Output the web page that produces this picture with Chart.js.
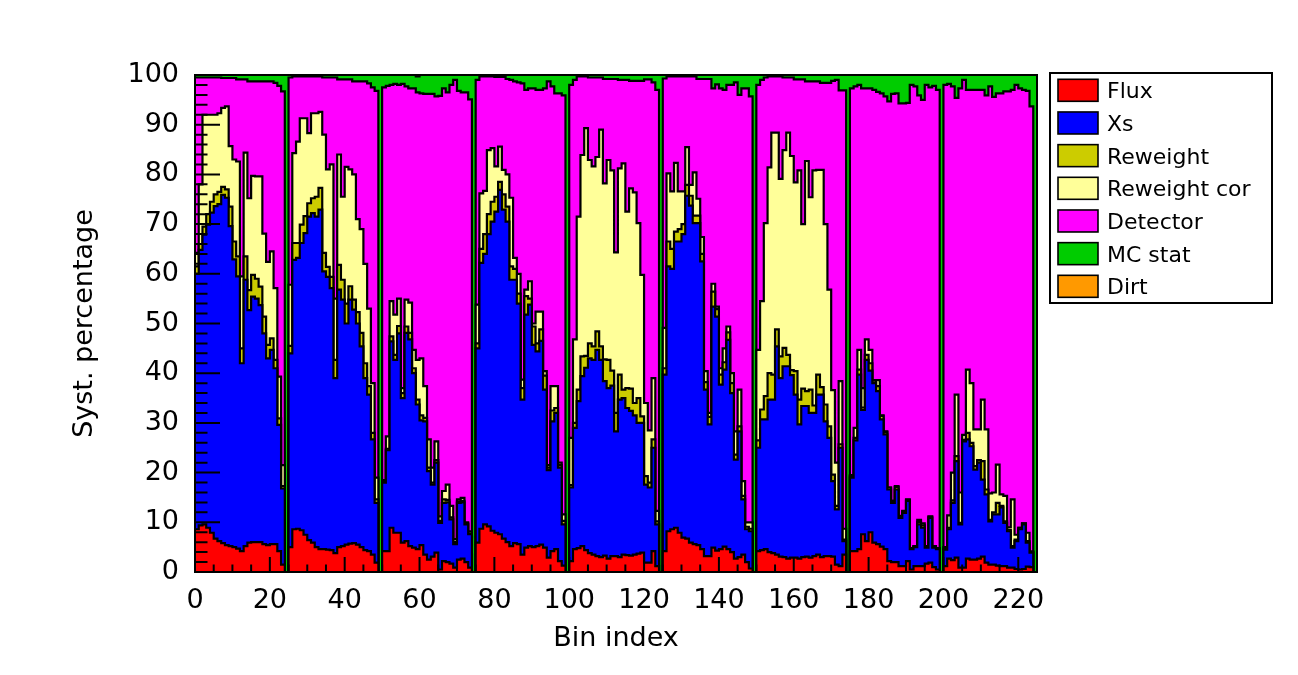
<!DOCTYPE html>
<html>
<head>
<meta charset="utf-8">
<script src="https://cdn.jsdelivr.net/npm/chart.js@4.4.1/dist/chart.umd.min.js"></script>
<style>
  html, body { margin: 0; padding: 0; background: #fff; }
  #wrap { width: 1298px; height: 675px; }
</style>
</head>
<body>
<div id="wrap"><canvas id="systChart"></canvas></div>
<script>
// systematic breakdown per bin (percent), 225 bins = 9 blocks of 25
const flux = [
  8.6,9.4,9.6,8.9,7.9,6.7,6.2,5.8,5.4,5.2,5.0,4.7,4.2,5.2,5.9,6.0,6.0,6.0,5.6,5.4,5.6,5.6,4.2,1.5,0,
  5,8.6,8.7,8.4,7.5,6.4,5.9,5,4.6,4.6,4.5,4.4,3.8,5,5.2,5.5,5.7,5.8,5.5,5,4.4,4.2,3.5,1.9,0,
  4.2,4.2,8.9,7.9,7.9,5.9,6.2,5.2,4.9,4.6,5.4,3.5,2.5,3.1,3.9,0.5,2.2,2,1.7,0.9,2.5,2.7,2,0.9,0,
  5.9,8.7,9.6,9.2,8.3,7.9,7.6,6.7,6,5.2,5.8,5.6,3.5,4.9,5.2,5,5.2,5.5,4.9,2.9,4.2,4.6,2.2,1.3,0,
  2.2,4.6,4.8,5.2,4.4,3.8,3.5,3.2,3,3.3,2.7,3.2,3.2,3,3.5,3.4,3.3,3.5,3.7,3.9,1.9,1.9,4.2,1.2,0,
  4.2,8.2,8.6,8.9,7.9,6.9,6.7,5.9,5.6,5.4,4.6,3.2,3.2,4.9,4.3,4.6,5.1,4.6,4,2.7,3,3.5,2,0.7,0,
  4.2,4.4,4.6,4,3.8,3.5,3.1,3,2.7,2.9,2.9,2.7,3,3.1,2.9,3.2,3.5,3,3.2,3.2,3.1,1.5,1.2,3.5,0,
  4.2,4.2,4.6,7.6,6.2,8,5.9,5.6,5.1,4.6,2.2,2,2,1.2,1.2,2.2,0.5,1.2,1.2,1.2,1.7,1.9,1,0.5,0,
  1.2,2.7,2.4,2.9,0.9,0.9,2.7,2.5,2.5,2.7,3.1,1.9,1.5,1.5,1.3,1.2,1.2,0.9,0.9,0.6,0.5,0.6,1.1,1,0
];
const xs = [
  51.4,55.4,58.3,61,64.4,66.9,67.8,70.1,69.9,64.4,57.9,54.8,37.8,53.6,46.8,49.4,49,47.7,42.4,37.6,39.1,35.4,25.4,15.3,0,
  39,54.2,54.5,57.8,60.7,65.1,66.3,66.5,68.3,55.9,54.9,52.7,35.2,51.8,49.6,44.5,49.1,47,44.5,40.4,34.6,31.5,23.2,12,0,
  13.8,20.3,37.5,34.8,40.1,29.1,41.9,41.6,35.1,29.1,25.1,26.8,17.8,14.5,18.1,9.4,11.7,12,8.9,4.7,11.4,11.3,7.6,6.7,0,
  39.1,53.5,54.4,58.8,62.2,64.6,69.3,66.2,64.5,53.6,53,48.4,31.2,46.9,48.6,40.7,39.2,41,31.8,17.6,26.1,27.4,18.8,8.3,0,
  14.8,24.4,29.6,34.2,36.7,39.2,39.2,41.5,39.7,35.1,34.3,34.3,25.1,31.7,31.5,29.6,29.1,28,26.3,26.1,15.7,15.1,20.8,8.4,0,
  35.5,53.3,52.4,57.6,58.6,61.1,69,67.8,64.6,64.8,57.9,33.5,26.5,48.5,47.1,33.1,35.6,42.1,32,19.9,25.3,11.1,6.6,7.5,0,
  20.8,26.3,26.1,30.7,30.9,41.9,35.9,38.4,38.7,36.7,32.8,27,30.4,30.3,29.1,28.8,32.2,32.7,27.1,23.8,15.2,11.1,23.8,2.7,0,
  14.8,22.3,35.1,25,36.5,32.5,32.1,30.8,25.6,23.1,14.4,11.9,14.6,9.7,10.7,12.1,4.1,3.8,8.4,7.7,3.2,9,3.9,4.1,0,
  3.3,5.9,11.5,19.4,8.7,25.4,24,22.8,18.1,19.3,15.5,13.7,8.7,10.1,10.3,11.8,8.7,7.3,4,5.6,8.1,9,4.8,2.9,0
];
const reweight = [
  1.5,1.2,1.6,2.1,2.2,2.4,2.5,1.6,1.7,3.9,3.6,4,3,4.7,4,4.4,4,3.7,3.4,2.7,2.3,1.7,1.3,0.5,0,
  1.5,3.4,3,3.7,3.4,2.7,3,4,4.4,3.7,2,2.3,3.7,5,4,4,2.7,2,2.3,2.7,3,1.7,1.3,0.7,0,
  0.3,0.3,1,1,1.5,1,1.3,1.3,1,1,1,0.7,0.7,0.4,0.5,0.4,0.7,0.5,0.4,0.4,0.3,0.3,0.2,0.2,0,
  1,2.8,4,4,4,3,1.6,3.1,3,2.7,2.2,2,2.3,3.7,1.2,3.7,1.6,2.3,2.8,0.5,2.2,1,0.5,0.7,0,
  0.5,1,2.3,4,2.4,3,2.7,3.7,2.7,4.4,5.7,3,3.7,5,1.7,4,4.5,2.5,5,1.3,1.7,1,1.7,0.6,0,
  1.3,5,4,2,2.5,2,2.2,2,1.5,1.5,1.5,1.5,1.5,3,1.5,2,1.5,1.5,2,1,1,0.7,0.5,0.5,0,
  1.5,2,4.7,5.3,5,3.4,4.4,3.7,2.3,1,4.7,5,3.5,3,4.7,1.5,4,1.5,3.4,2.3,1.3,0.7,0.7,0.3,0,
  0.3,0.5,1,0.5,1,1.5,0.5,1,0.7,0.5,0.4,0.4,0.5,0.3,0.3,0.2,0.2,0.2,0.5,0.5,0.3,0.2,0.2,0.2,0,
  0.2,0.3,0.5,1,0.3,0.3,1.3,0.7,0.7,0.5,3.7,1,0.3,0.4,2.3,0.3,0.3,0.3,0.3,0.3,0.3,0.2,0.3,0.2,0
];
const reweightCor = [
  2.7,12,22.5,20,17.5,16,15.8,15.9,16.7,12.2,16.5,19.1,14.5,20.9,18.5,19.9,20.6,22.2,16.7,16.7,17.5,14.4,8.4,4.2,0,
  12.3,18.1,20.4,21.4,19.7,14.1,17.1,16.8,15.3,23.8,19.6,22.6,12.3,22.2,16.7,27.5,23.5,25.2,18.7,20.9,20,15.6,10,4.4,0,
  0.2,2.5,7.1,8.1,5.5,1,5.4,6.1,3.7,8,11.5,6.4,5.7,3,3.8,0.9,1.7,3.1,2.3,0.6,0.4,0.6,0.2,0.4,0,
  7.8,11.2,8.7,12.9,10.8,6.1,7.1,4.9,6.5,13.8,2.2,4,1.7,1.3,3.5,0.6,6.4,3.6,0.9,0.5,4.9,4.4,0.5,1.3,0,
  9.5,16.8,34.8,40.5,45.8,36.9,36.2,35.1,43.6,35.4,40.2,40.3,32.3,41.5,45.5,35.5,40.3,42.4,35.2,28.5,14.7,10.5,12.3,2.1,0,
  8.1,13.7,11.6,13.8,7.6,6.6,7.6,2.2,8.7,3.4,3.4,2.2,0.8,1.6,0.5,1.3,2.8,1.2,2,4.7,7.4,3,0.9,1.3,0,
  18.2,21.8,34.8,41.4,48.7,39.6,35.7,39.8,44.7,43.1,38,46.1,33.1,46.3,38.7,47.3,41.2,43.7,36.3,27.5,17,8.7,12.7,2.2,0,
  0.2,2,4,3.9,3.1,2.7,0.1,1.2,0.1,0.1,0,0,0.2,0.1,0.1,0.1,0,0,0.4,0.4,0,0.1,0.1,0,0,
  0.3,2.5,5.6,12.4,6.1,1,12.7,12,7.4,6.2,12.4,12.1,5.3,4,7.7,2.3,5.1,0.5,9.4,1,0,0,1.7,0,0
];
const detector = [
  35.3,21.5,7.5,7.5,7.5,7.5,7.2,6,5.7,13.7,16.4,16.5,39.6,14.7,23.5,19,19.1,19.1,30.6,36.3,34.2,41.3,58.5,75.2,0,
  41.7,15.4,13.1,8.4,8.4,11.4,7.4,7.4,7.1,11.5,18.5,17.5,44.5,15.1,23.6,17.6,18.1,18.7,27.7,29.7,36.7,45.3,59.5,77.8,0,
  79,70.5,43.5,46.4,43,61.2,42.9,43.1,52.6,53.8,53.3,58.8,69.5,75.2,69.4,84.6,81,78.9,84.7,92.4,82.2,81.6,86.5,86.9,0,
  45.2,23.5,23,14.8,14.4,18,14,18.7,19.2,23.7,35.5,38.5,59.6,40.2,38.8,47.3,44.6,44.6,56.9,77.2,60.3,58.9,74.3,84.3,0,
  71,52.2,28.2,15.8,10.4,16.6,17.9,16,10.5,21,16.3,18.4,34.9,17.8,16.8,26.5,21.6,22.4,28.6,39,65.1,70.6,59.5,84.7,0,
  50.2,19.5,23.1,17.4,23.1,23.1,14.2,21.8,19.3,24.1,31.8,58.8,67.2,39.3,44.7,56.3,52,48.6,58,70.2,59.3,79,87.3,85.7,0,
  53.3,44.5,29.3,18.3,11.3,11.3,20.6,14.6,11.1,15.8,20.7,18.3,29.1,16,23.3,17.9,17.8,17.5,28.4,41.6,62.2,77,58.5,88.2,0,
  77.8,68.7,53.3,60.3,50.5,52.6,58.4,58,64.8,67.4,77.7,81.9,79,83,82,79.8,93.2,92.5,85.4,85.2,92.8,86.3,92.6,92.2,0,
  93,86.8,77.7,59.7,81.3,71.4,56.3,59,68.3,68.3,62.3,67.2,81.9,79.6,74.7,80.7,81.4,87.7,82.4,90.5,88.4,87.2,88.9,89.6,0
];
const mcStat = [
  0.5,0.5,0.5,0.5,0.5,0.5,0.5,0.6,0.6,0.6,0.6,0.9,0.9,0.9,1.3,1.3,1.3,1.3,1.3,1.3,1.3,1.6,2.2,3.3,100,
  0.5,0.3,0.3,0.3,0.3,0.3,0.3,0.3,0.3,0.5,0.5,0.5,0.5,0.9,0.9,0.9,0.9,1.3,1.3,1.3,1.3,1.7,2.5,3.2,100,
  2.5,2.5,2,1.8,2,1.8,2.3,2.7,2.7,3.2,3.7,3.8,3.8,3.8,4.3,4.2,2.7,3.5,2,1,3.2,3.5,3.5,4.9,100,
  1,0.3,0.3,0.3,0.3,0.4,0.4,0.4,0.8,1,1.3,1.5,1.7,3,2.7,2.7,3,3,2.7,1.3,2.3,3.7,3.7,4.1,100,
  2,1,0.3,0.3,0.3,0.5,0.5,0.5,0.5,0.8,0.8,0.8,0.8,1,1,1,1.2,1.2,1.2,1.2,0.9,0.9,1.5,3,100,
  0.7,0.3,0.3,0.3,0.3,0.3,0.3,0.3,0.3,0.8,0.8,0.8,0.8,2.7,1.9,2.7,3,2,2,1.5,4,2.7,2.7,4.3,100,
  2,1,0.5,0.3,0.3,0.3,0.3,0.5,0.5,0.5,0.9,0.9,0.9,1.3,1.3,1.3,1.3,1.6,1.6,1.6,1.2,1,3.1,3.1,100,
  2.7,2.3,2,2.7,2.7,2.7,3,3.4,3.7,4.3,5.3,3.8,3.7,5.7,5.7,5.6,2,2.3,4.1,5,2,2.5,2.2,3,100,
  2,1.8,2.3,4.6,2.7,1,3,3,3,3,3,4.1,2.3,4.4,3.7,3.7,3.3,3.3,3,2,2.7,3,3.2,6.3,100
];
const dirt = [
  0,0,0,0,0,0,0,0,0,0,0,0,0,0,0,0,0,0,0,0,0,0,0,0,0,
  0,0,0,0,0,0,0,0,0,0,0,0,0,0,0,0,0,0,0,0,0,0,0,0,0,
  0,0,0,0,0,0,0,0,0,0,0,0,0,0,0,0,0,0,0,0,0,0,0,0,0,
  0,0,0,0,0,0,0,0,0,0,0,0,0,0,0,0,0,0,0,0,0,0,0,0,0,
  0,0,0,0,0,0,0,0,0,0,0,0,0,0,0,0,0,0,0,0,0,0,0,0,0,
  0,0,0,0,0,0,0,0,0,0,0,0,0,0,0,0,0,0,0,0,0,0,0,0,0,
  0,0,0,0,0,0,0,0,0,0,0,0,0,0,0,0,0,0,0,0,0,0,0,0,0,
  0,0,0,0,0,0,0,0,0,0,0,0,0,0,0,0,0,0,0,0,0,0,0,0,0,
  0,0,0,0,0,0,0,0,0,0,0,0,0,0,0,0,0,0,0,0,0,0,0,0,0
];

const seriesNames = ["Flux", "Xs", "Reweight", "Reweight cor", "Detector", "MC stat", "Dirt"];
const seriesColors = ["#ff0000", "#0000ff", "#cccc00", "#ffff99", "#ff00ff", "#00cc00", "#ff9900"];
const seriesValues = [flux, xs, reweight, reweightCor, detector, mcStat, dirt];

const FONT = '"DejaVu Sans", "Liberation Sans", sans-serif';

// histogram steps: point i holds bin i, one extra point closes the last bin
function toSteps(vals) {
  const pts = vals.map((v, i) => ({ x: i, y: v }));
  pts.push({ x: vals.length, y: vals[vals.length - 1] });
  return pts;
}

const datasets = seriesValues.map((vals, k) => ({
  label: seriesNames[k],
  data: toSteps(vals),
  stepped: true,
  fill: k === 0 ? 'origin' : '-1',
  backgroundColor: seriesColors[k],
  borderColor: '#000',
  borderWidth: 2.2,
  pointRadius: 0,
  pointHitRadius: 0
}));

// ROOT style frame + inward tick marks
const frameTicks = {
  id: 'frameTicks',
  afterDatasetsDraw(chart) {
    const { ctx, chartArea: a, scales: { x, y } } = chart;
    ctx.save();
    ctx.strokeStyle = '#000';
    ctx.lineWidth = 2;
    ctx.beginPath();
    for (let v = 0; v <= 100; v += 2) {
      const py = y.getPixelForValue(v);
      const len = v % 10 === 0 ? 25 : 12.5;
      ctx.moveTo(a.left, py);
      ctx.lineTo(a.left + len, py);
    }
    for (let b = 0; b <= 225; b += 5) {
      const px = x.getPixelForValue(b);
      const len = b % 20 === 0 ? 15 : 7.5;
      ctx.moveTo(px, a.bottom);
      ctx.lineTo(px, a.bottom - len);
    }
    ctx.stroke();
    ctx.strokeRect(a.left, a.top, a.right - a.left, a.bottom - a.top);
    ctx.restore();
  }
};

// boxed legend at the right of the frame
const boxLegend = {
  id: 'boxLegend',
  afterDraw(chart) {
    const ctx = chart.ctx;
    const left = chart.chartArea.right + 13;
    const top = 73;
    ctx.save();
    ctx.fillStyle = '#fff';
    ctx.fillRect(left, top, 222, 230);
    ctx.strokeStyle = '#000';
    ctx.lineWidth = 2;
    ctx.strokeRect(left, top, 222, 230);
    ctx.font = '22px ' + FONT;
    ctx.textBaseline = 'alphabetic';
    chart.data.datasets.forEach((ds, k) => {
      const cy = top + 17.3 + k * 32.67;
      ctx.fillStyle = ds.backgroundColor;
      ctx.fillRect(left + 8, cy - 11, 40, 22);
      ctx.lineWidth = 1.6;
      ctx.strokeRect(left + 8, cy - 11, 40, 22);
      ctx.fillStyle = '#000';
      ctx.fillText(ds.label, left + 57, cy + 8);
    });
    ctx.restore();
  }
};

new Chart(document.getElementById('systChart').getContext('2d'), {
  type: 'line',
  data: { datasets },
  options: {
    responsive: true,
    maintainAspectRatio: false,
    animation: false,
    layout: { padding: { top: 75, right: 261, bottom: 0, left: 0 } },
    plugins: {
      legend: { display: false },
      tooltip: { enabled: false }
    },
    scales: {
      x: {
        type: 'linear',
        min: 0,
        max: 225,
        grid: { display: false },
        border: { display: false },
        ticks: {
          stepSize: 20,
          includeBounds: false,
          maxRotation: 0,
          autoSkip: false,
          padding: 5,
          color: '#000',
          font: { family: FONT, size: 27 }
        },
        title: {
          display: true,
          text: 'Bin index',
          color: '#000',
          font: { family: FONT, size: 27 },
          padding: { top: 0, bottom: 20 }
        },
        afterFit(scale) { scale.height = 103; }
      },
      y: {
        stacked: true,
        min: 0,
        max: 100,
        grid: { display: false },
        border: { display: false },
        ticks: {
          stepSize: 10,
          padding: 8,
          color: '#000',
          font: { family: FONT, size: 27 }
        },
        title: {
          display: true,
          text: 'Syst. percentage',
          color: '#000',
          font: { family: FONT, size: 27 },
          padding: { top: 69, bottom: 0 }
        },
        afterFit(scale) { scale.width = 195; }
      }
    }
  },
  plugins: [frameTicks, boxLegend]
});
</script>
</body>
</html>
